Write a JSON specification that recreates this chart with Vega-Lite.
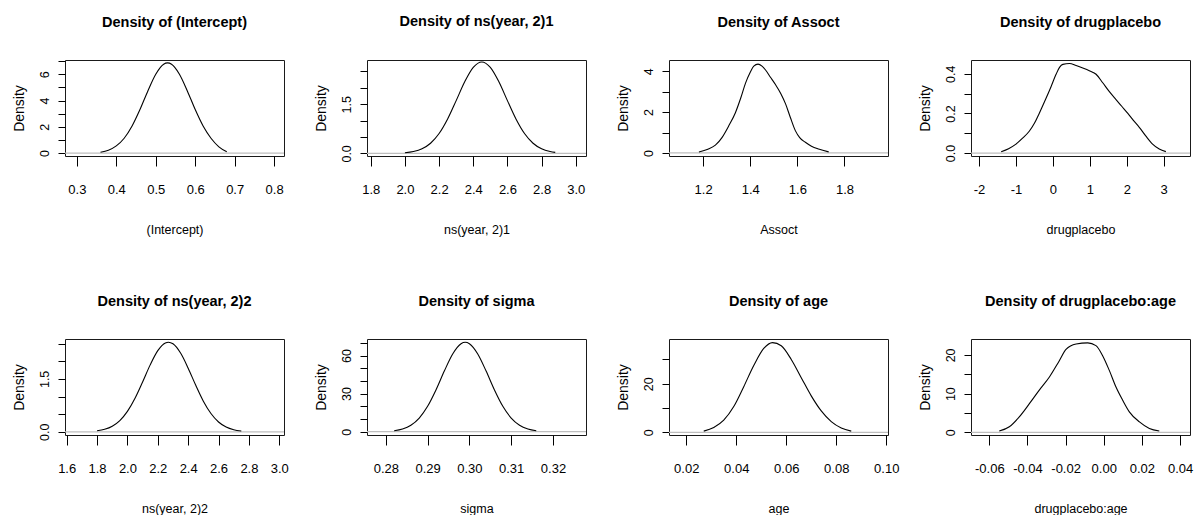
{
  "$schema": "https://vega.github.io/schema/vega-lite/v6.json",
  "autosize": {"type": "pad"},
  "padding": {"left": 11, "top": 13, "right": 0, "bottom": 0},
  "background": "white",
  "data": {"values": [
    {"param": "(Intercept)", "value": 0.36, "density": 0.06},
    {"param": "(Intercept)", "value": 0.38, "density": 0.22},
    {"param": "(Intercept)", "value": 0.40, "density": 0.55},
    {"param": "(Intercept)", "value": 0.42, "density": 1.13},
    {"param": "(Intercept)", "value": 0.44, "density": 2.06},
    {"param": "(Intercept)", "value": 0.46, "density": 3.31},
    {"param": "(Intercept)", "value": 0.48, "density": 4.73},
    {"param": "(Intercept)", "value": 0.50, "density": 6.00},
    {"param": "(Intercept)", "value": 0.52, "density": 6.76},
    {"param": "(Intercept)", "value": 0.53, "density": 6.86},
    {"param": "(Intercept)", "value": 0.54, "density": 6.76},
    {"param": "(Intercept)", "value": 0.56, "density": 6.00},
    {"param": "(Intercept)", "value": 0.58, "density": 4.73},
    {"param": "(Intercept)", "value": 0.60, "density": 3.31},
    {"param": "(Intercept)", "value": 0.62, "density": 2.06},
    {"param": "(Intercept)", "value": 0.64, "density": 1.13},
    {"param": "(Intercept)", "value": 0.66, "density": 0.48},
    {"param": "(Intercept)", "value": 0.68, "density": 0.10},

    {"param": "ns(year, 2)1", "value": 2.00, "density": 0.02},
    {"param": "ns(year, 2)1", "value": 2.05, "density": 0.056},
    {"param": "ns(year, 2)1", "value": 2.10, "density": 0.139},
    {"param": "ns(year, 2)1", "value": 2.15, "density": 0.309},
    {"param": "ns(year, 2)1", "value": 2.20, "density": 0.605},
    {"param": "ns(year, 2)1", "value": 2.25, "density": 1.049},
    {"param": "ns(year, 2)1", "value": 2.30, "density": 1.61},
    {"param": "ns(year, 2)1", "value": 2.35, "density": 2.185},
    {"param": "ns(year, 2)1", "value": 2.40, "density": 2.625},
    {"param": "ns(year, 2)1", "value": 2.45, "density": 2.79},
    {"param": "ns(year, 2)1", "value": 2.50, "density": 2.625},
    {"param": "ns(year, 2)1", "value": 2.55, "density": 2.185},
    {"param": "ns(year, 2)1", "value": 2.60, "density": 1.61},
    {"param": "ns(year, 2)1", "value": 2.65, "density": 1.049},
    {"param": "ns(year, 2)1", "value": 2.70, "density": 0.605},
    {"param": "ns(year, 2)1", "value": 2.75, "density": 0.309},
    {"param": "ns(year, 2)1", "value": 2.80, "density": 0.139},
    {"param": "ns(year, 2)1", "value": 2.85, "density": 0.056},
    {"param": "ns(year, 2)1", "value": 2.88, "density": 0.03},

    {"param": "Assoct", "value": 1.182, "density": 0.05},
    {"param": "Assoct", "value": 1.22, "density": 0.18},
    {"param": "Assoct", "value": 1.252, "density": 0.38},
    {"param": "Assoct", "value": 1.28, "density": 0.75},
    {"param": "Assoct", "value": 1.31, "density": 1.35},
    {"param": "Assoct", "value": 1.337, "density": 1.97},
    {"param": "Assoct", "value": 1.36, "density": 2.7},
    {"param": "Assoct", "value": 1.38, "density": 3.42},
    {"param": "Assoct", "value": 1.40, "density": 3.95},
    {"param": "Assoct", "value": 1.415, "density": 4.25},
    {"param": "Assoct", "value": 1.433, "density": 4.35},
    {"param": "Assoct", "value": 1.45, "density": 4.25},
    {"param": "Assoct", "value": 1.465, "density": 4.06},
    {"param": "Assoct", "value": 1.485, "density": 3.72},
    {"param": "Assoct", "value": 1.507, "density": 3.35},
    {"param": "Assoct", "value": 1.53, "density": 2.9},
    {"param": "Assoct", "value": 1.55, "density": 2.4},
    {"param": "Assoct", "value": 1.57, "density": 1.75},
    {"param": "Assoct", "value": 1.592, "density": 1.08},
    {"param": "Assoct", "value": 1.61, "density": 0.75},
    {"param": "Assoct", "value": 1.634, "density": 0.52},
    {"param": "Assoct", "value": 1.66, "density": 0.33},
    {"param": "Assoct", "value": 1.69, "density": 0.19},
    {"param": "Assoct", "value": 1.733, "density": 0.05},

    {"param": "drugplacebo", "value": -1.40, "density": 0.007},
    {"param": "drugplacebo", "value": -1.2, "density": 0.022},
    {"param": "drugplacebo", "value": -1.0, "density": 0.045},
    {"param": "drugplacebo", "value": -0.82, "density": 0.075},
    {"param": "drugplacebo", "value": -0.64, "density": 0.11},
    {"param": "drugplacebo", "value": -0.5, "density": 0.15},
    {"param": "drugplacebo", "value": -0.37, "density": 0.2},
    {"param": "drugplacebo", "value": -0.2, "density": 0.27},
    {"param": "drugplacebo", "value": -0.05, "density": 0.335},
    {"param": "drugplacebo", "value": 0.08, "density": 0.395},
    {"param": "drugplacebo", "value": 0.18, "density": 0.433},
    {"param": "drugplacebo", "value": 0.27, "density": 0.448},
    {"param": "drugplacebo", "value": 0.45, "density": 0.452},
    {"param": "drugplacebo", "value": 0.63, "density": 0.442},
    {"param": "drugplacebo", "value": 0.81, "density": 0.43},
    {"param": "drugplacebo", "value": 1.0, "density": 0.415},
    {"param": "drugplacebo", "value": 1.17, "density": 0.398},
    {"param": "drugplacebo", "value": 1.35, "density": 0.355},
    {"param": "drugplacebo", "value": 1.53, "density": 0.31},
    {"param": "drugplacebo", "value": 1.71, "density": 0.27},
    {"param": "drugplacebo", "value": 1.87, "density": 0.235},
    {"param": "drugplacebo", "value": 2.03, "density": 0.2},
    {"param": "drugplacebo", "value": 2.18, "density": 0.165},
    {"param": "drugplacebo", "value": 2.34, "density": 0.13},
    {"param": "drugplacebo", "value": 2.52, "density": 0.085},
    {"param": "drugplacebo", "value": 2.70, "density": 0.045},
    {"param": "drugplacebo", "value": 2.88, "density": 0.02},
    {"param": "drugplacebo", "value": 3.06, "density": 0.007},

    {"param": "ns(year, 2)2", "value": 1.80, "density": 0.029},
    {"param": "ns(year, 2)2", "value": 1.85, "density": 0.071},
    {"param": "ns(year, 2)2", "value": 1.90, "density": 0.158},
    {"param": "ns(year, 2)2", "value": 1.95, "density": 0.318},
    {"param": "ns(year, 2)2", "value": 2.00, "density": 0.579},
    {"param": "ns(year, 2)2", "value": 2.05, "density": 0.951},
    {"param": "ns(year, 2)2", "value": 2.10, "density": 1.413},
    {"param": "ns(year, 2)2", "value": 2.15, "density": 1.897},
    {"param": "ns(year, 2)2", "value": 2.20, "density": 2.30},
    {"param": "ns(year, 2)2", "value": 2.25, "density": 2.519},
    {"param": "ns(year, 2)2", "value": 2.27, "density": 2.54},
    {"param": "ns(year, 2)2", "value": 2.30, "density": 2.494},
    {"param": "ns(year, 2)2", "value": 2.35, "density": 2.231},
    {"param": "ns(year, 2)2", "value": 2.40, "density": 1.803},
    {"param": "ns(year, 2)2", "value": 2.45, "density": 1.317},
    {"param": "ns(year, 2)2", "value": 2.50, "density": 0.868},
    {"param": "ns(year, 2)2", "value": 2.55, "density": 0.518},
    {"param": "ns(year, 2)2", "value": 2.60, "density": 0.279},
    {"param": "ns(year, 2)2", "value": 2.65, "density": 0.136},
    {"param": "ns(year, 2)2", "value": 2.70, "density": 0.06},
    {"param": "ns(year, 2)2", "value": 2.75, "density": 0.024},

    {"param": "sigma", "value": 0.282, "density": 0.79},
    {"param": "sigma", "value": 0.284, "density": 2.13},
    {"param": "sigma", "value": 0.286, "density": 5.08},
    {"param": "sigma", "value": 0.288, "density": 10.72},
    {"param": "sigma", "value": 0.290, "density": 19.97},
    {"param": "sigma", "value": 0.292, "density": 32.85},
    {"param": "sigma", "value": 0.294, "density": 47.72},
    {"param": "sigma", "value": 0.296, "density": 61.2},
    {"param": "sigma", "value": 0.298, "density": 69.3},
    {"param": "sigma", "value": 0.299, "density": 70.4},
    {"param": "sigma", "value": 0.300, "density": 69.3},
    {"param": "sigma", "value": 0.302, "density": 61.2},
    {"param": "sigma", "value": 0.304, "density": 47.72},
    {"param": "sigma", "value": 0.306, "density": 32.85},
    {"param": "sigma", "value": 0.308, "density": 19.97},
    {"param": "sigma", "value": 0.310, "density": 10.72},
    {"param": "sigma", "value": 0.312, "density": 5.08},
    {"param": "sigma", "value": 0.314, "density": 2.13},
    {"param": "sigma", "value": 0.316, "density": 0.79},

    {"param": "age", "value": 0.027, "density": 0.5},
    {"param": "age", "value": 0.031, "density": 2.0},
    {"param": "age", "value": 0.035, "density": 5.0},
    {"param": "age", "value": 0.039, "density": 10.6},
    {"param": "age", "value": 0.043, "density": 18.8},
    {"param": "age", "value": 0.047, "density": 27.5},
    {"param": "age", "value": 0.051, "density": 34.5},
    {"param": "age", "value": 0.0545, "density": 36.9},
    {"param": "age", "value": 0.058, "density": 35.6},
    {"param": "age", "value": 0.062, "density": 30.0},
    {"param": "age", "value": 0.066, "density": 22.5},
    {"param": "age", "value": 0.070, "density": 15.0},
    {"param": "age", "value": 0.074, "density": 8.8},
    {"param": "age", "value": 0.078, "density": 4.4},
    {"param": "age", "value": 0.082, "density": 1.8},
    {"param": "age", "value": 0.086, "density": 0.5},

    {"param": "drugplacebo:age", "value": -0.0548, "density": 0.34},
    {"param": "drugplacebo:age", "value": -0.0495, "density": 1.45},
    {"param": "drugplacebo:age", "value": -0.0443, "density": 4.0},
    {"param": "drugplacebo:age", "value": -0.039, "density": 7.4},
    {"param": "drugplacebo:age", "value": -0.0338, "density": 10.9},
    {"param": "drugplacebo:age", "value": -0.0285, "density": 14.3},
    {"param": "drugplacebo:age", "value": -0.0233, "density": 18.5},
    {"param": "drugplacebo:age", "value": -0.0198, "density": 21.4},
    {"param": "drugplacebo:age", "value": -0.0145, "density": 22.8},
    {"param": "drugplacebo:age", "value": -0.0084, "density": 23.1},
    {"param": "drugplacebo:age", "value": -0.0041, "density": 22.4},
    {"param": "drugplacebo:age", "value": -0.0006, "density": 19.8},
    {"param": "drugplacebo:age", "value": 0.0029, "density": 16.0},
    {"param": "drugplacebo:age", "value": 0.0064, "density": 11.7},
    {"param": "drugplacebo:age", "value": 0.0099, "density": 8.3},
    {"param": "drugplacebo:age", "value": 0.0134, "density": 5.3},
    {"param": "drugplacebo:age", "value": 0.0187, "density": 2.7},
    {"param": "drugplacebo:age", "value": 0.0239, "density": 1.0},
    {"param": "drugplacebo:age", "value": 0.0291, "density": 0.34}
  ]},
  "config": {
    "view": {"stroke": "#1a1a1a", "strokeWidth": 1},
    "font": "Liberation Sans",
    "title": {"font": "Liberation Sans", "fontSize": 14.5, "fontWeight": "bold", "color": "#000", "frame": "group", "anchor": "middle", "baseline": "alphabetic", "offset": 30},
    "axis": {"domain": false, "grid": false, "ticks": true, "tickCount": 30, "tickColor": "#000", "tickWidth": 1, "labelColor": "#000", "titleColor": "#000", "labelOverlap": false, "labelFlush": false, "titleFontWeight": "normal"},
    "axisX": {"tickSize": 10, "labelFont": "Liberation Sans", "labelFontSize": 13, "labelBaseline": "alphabetic", "labelPadding": 27, "titleFont": "Liberation Sans", "titleFontSize": 12.5, "titleBaseline": "alphabetic", "titleY": 77},
    "axisY": {"tickSize": 7, "labelFont": "Liberation Sans", "labelFontSize": 12.5, "labelAngle": -90, "labelAlign": "center", "labelBaseline": "alphabetic", "labelPadding": 9.5, "titleFont": "Liberation Sans", "titleFontSize": 14, "titleBaseline": "alphabetic", "titleAngle": -90, "titleX": -42}
  },
  "columns": 4,
  "spacing": {"row": 183, "column": 83},
  "bounds": "flush",
  "concat": [
    {"width": 219, "height": 96, "title": "Density of (Intercept)", "layer": [
      {"data": {"values": [{"zero": 0}]}, "mark": {"type": "rule", "color": "#bebebe", "strokeWidth": 1.2}, "encoding": {"y": {"field": "zero", "type": "quantitative", "title": "Density"}}},
      {"transform": [{"filter": "datum.param === '(Intercept)'"}], "mark": {"type": "line", "color": "#000", "strokeWidth": 1.1, "interpolate": "monotone"},
       "encoding": {
         "x": {"field": "value", "type": "quantitative", "title": "(Intercept)", "scale": {"domain": [0.27, 0.825], "nice": false, "zero": false}, "axis": {"values": [0.3, 0.4, 0.5, 0.6, 0.7, 0.8], "tickCount": 30, "format": ".1f"}},
         "y": {"field": "density", "type": "quantitative", "title": "Density", "scale": {"domain": [-0.22, 7.08], "nice": false, "zero": false}, "axis": {"values": [0, 1, 2, 3, 4, 5, 6, 7], "tickCount": 30, "labelExpr": "datum.value % 2 == 0 ? format(datum.value, 'd') : ''"}}
       }}
    ]},
    {"width": 219, "height": 96, "title": "Density of ns(year, 2)1", "layer": [
      {"data": {"values": [{"zero": 0}]}, "mark": {"type": "rule", "color": "#bebebe", "strokeWidth": 1.2}, "encoding": {"y": {"field": "zero", "type": "quantitative", "title": "Density"}}},
      {"transform": [{"filter": "datum.param === 'ns(year, 2)1'"}], "mark": {"type": "line", "color": "#000", "strokeWidth": 1.1, "interpolate": "monotone"},
       "encoding": {
         "x": {"field": "value", "type": "quantitative", "title": "ns(year, 2)1", "scale": {"domain": [1.778, 3.06], "nice": false, "zero": false}, "axis": {"values": [1.8, 2.0, 2.2, 2.4, 2.6, 2.8, 3.0], "tickCount": 30, "format": ".1f"}},
         "y": {"field": "density", "type": "quantitative", "title": "Density", "scale": {"domain": [-0.08, 2.85], "nice": false, "zero": false}, "axis": {"values": [0, 0.5, 1, 1.5, 2, 2.5], "tickCount": 30, "labelExpr": "datum.value == 0 || datum.value == 1.5 ? format(datum.value, '.1f') : ''"}}
       }}
    ]},
    {"width": 219, "height": 96, "title": "Density of Assoct", "layer": [
      {"data": {"values": [{"zero": 0}]}, "mark": {"type": "rule", "color": "#bebebe", "strokeWidth": 1.2}, "encoding": {"y": {"field": "zero", "type": "quantitative", "title": "Density"}}},
      {"transform": [{"filter": "datum.param === 'Assoct'"}], "mark": {"type": "line", "color": "#000", "strokeWidth": 1.1, "interpolate": "monotone"},
       "encoding": {
         "x": {"field": "value", "type": "quantitative", "title": "Assoct", "scale": {"domain": [1.055, 1.985], "nice": false, "zero": false}, "axis": {"values": [1.2, 1.4, 1.6, 1.8], "tickCount": 30, "format": ".1f"}},
         "y": {"field": "density", "type": "quantitative", "title": "Density", "scale": {"domain": [-0.15, 4.55], "nice": false, "zero": false}, "axis": {"values": [0, 1, 2, 3, 4], "tickCount": 30, "labelExpr": "datum.value % 2 == 0 ? format(datum.value, 'd') : ''"}}
       }}
    ]},
    {"width": 219, "height": 96, "title": "Density of drugplacebo", "layer": [
      {"data": {"values": [{"zero": 0}]}, "mark": {"type": "rule", "color": "#bebebe", "strokeWidth": 1.2}, "encoding": {"y": {"field": "zero", "type": "quantitative", "title": "Density"}}},
      {"transform": [{"filter": "datum.param === 'drugplacebo'"}], "mark": {"type": "line", "color": "#000", "strokeWidth": 1.1, "interpolate": "monotone"},
       "encoding": {
         "x": {"field": "value", "type": "quantitative", "title": "drugplacebo", "scale": {"domain": [-2.217, 3.713], "nice": false, "zero": false}, "axis": {"values": [-2, -1, 0, 1, 2, 3], "tickCount": 30, "labelExpr": "replace(format(datum.value, 'd'), '−', '-')"}},
         "y": {"field": "density", "type": "quantitative", "title": "Density", "scale": {"domain": [-0.015, 0.47], "nice": false, "zero": false}, "axis": {"values": [0, 0.1, 0.2, 0.3, 0.4], "tickCount": 30, "labelExpr": "datum.value == 0 || datum.value == 0.2 || datum.value == 0.4 ? format(datum.value, '.1f') : ''"}}
       }}
    ]},
    {"width": 219, "height": 96, "title": "Density of ns(year, 2)2", "layer": [
      {"data": {"values": [{"zero": 0}]}, "mark": {"type": "rule", "color": "#bebebe", "strokeWidth": 1.2}, "encoding": {"y": {"field": "zero", "type": "quantitative", "title": "Density"}}},
      {"transform": [{"filter": "datum.param === 'ns(year, 2)2'"}], "mark": {"type": "line", "color": "#000", "strokeWidth": 1.1, "interpolate": "monotone"},
       "encoding": {
         "x": {"field": "value", "type": "quantitative", "title": "ns(year, 2)2", "scale": {"domain": [1.589, 3.031], "nice": false, "zero": false}, "axis": {"values": [1.6, 1.8, 2.0, 2.2, 2.4, 2.6, 2.8, 3.0], "tickCount": 30, "format": ".1f"}},
         "y": {"field": "density", "type": "quantitative", "title": "Density", "scale": {"domain": [-0.09, 2.63], "nice": false, "zero": false}, "axis": {"values": [0, 0.5, 1, 1.5, 2, 2.5], "tickCount": 30, "labelExpr": "datum.value == 0 || datum.value == 1.5 ? format(datum.value, '.1f') : ''"}}
       }}
    ]},
    {"width": 219, "height": 96, "title": "Density of sigma", "layer": [
      {"data": {"values": [{"zero": 0}]}, "mark": {"type": "rule", "color": "#bebebe", "strokeWidth": 1.2}, "encoding": {"y": {"field": "zero", "type": "quantitative", "title": "Density"}}},
      {"transform": [{"filter": "datum.param === 'sigma'"}], "mark": {"type": "line", "color": "#000", "strokeWidth": 1.1, "interpolate": "monotone"},
       "encoding": {
         "x": {"field": "value", "type": "quantitative", "title": "sigma", "scale": {"domain": [0.2755, 0.3279], "nice": false, "zero": false}, "axis": {"values": [0.28, 0.29, 0.30, 0.31, 0.32], "tickCount": 30, "format": ".2f"}},
         "y": {"field": "density", "type": "quantitative", "title": "Density", "scale": {"domain": [-2.6, 73], "nice": false, "zero": false}, "axis": {"values": [0, 10, 20, 30, 40, 50, 60, 70], "tickCount": 30, "labelExpr": "datum.value % 30 == 0 ? format(datum.value, 'd') : ''"}}
       }}
    ]},
    {"width": 219, "height": 96, "title": "Density of age", "layer": [
      {"data": {"values": [{"zero": 0}]}, "mark": {"type": "rule", "color": "#bebebe", "strokeWidth": 1.2}, "encoding": {"y": {"field": "zero", "type": "quantitative", "title": "Density"}}},
      {"transform": [{"filter": "datum.param === 'age'"}], "mark": {"type": "line", "color": "#000", "strokeWidth": 1.1, "interpolate": "monotone"},
       "encoding": {
         "x": {"field": "value", "type": "quantitative", "title": "age", "scale": {"domain": [0.0131, 0.1007], "nice": false, "zero": false}, "axis": {"values": [0.02, 0.04, 0.06, 0.08, 0.10], "tickCount": 30, "format": ".2f"}},
         "y": {"field": "density", "type": "quantitative", "title": "Density", "scale": {"domain": [-1.09, 38.4], "nice": false, "zero": false}, "axis": {"values": [0, 10, 20, 30], "tickCount": 30, "labelExpr": "datum.value % 20 == 0 ? format(datum.value, 'd') : ''"}}
       }}
    ]},
    {"width": 219, "height": 96, "title": "Density of drugplacebo:age", "layer": [
      {"data": {"values": [{"zero": 0}]}, "mark": {"type": "rule", "color": "#bebebe", "strokeWidth": 1.2}, "encoding": {"y": {"field": "zero", "type": "quantitative", "title": "Density"}}},
      {"transform": [{"filter": "datum.param === 'drugplacebo:age'"}], "mark": {"type": "line", "color": "#000", "strokeWidth": 1.1, "interpolate": "monotone"},
       "encoding": {
         "x": {"field": "value", "type": "quantitative", "title": "drugplacebo:age", "scale": {"domain": [-0.0696, 0.0452], "nice": false, "zero": false}, "axis": {"values": [-0.06, -0.04, -0.02, 0, 0.02, 0.04], "tickCount": 30, "labelExpr": "replace(format(datum.value, '.2f'), '−', '-')"}},
         "y": {"field": "density", "type": "quantitative", "title": "Density", "scale": {"domain": [-0.68, 24.1], "nice": false, "zero": false}, "axis": {"values": [0, 5, 10, 15, 20], "tickCount": 30, "labelExpr": "datum.value % 10 == 0 ? format(datum.value, 'd') : ''"}}
       }}
    ]}
  ]
}
